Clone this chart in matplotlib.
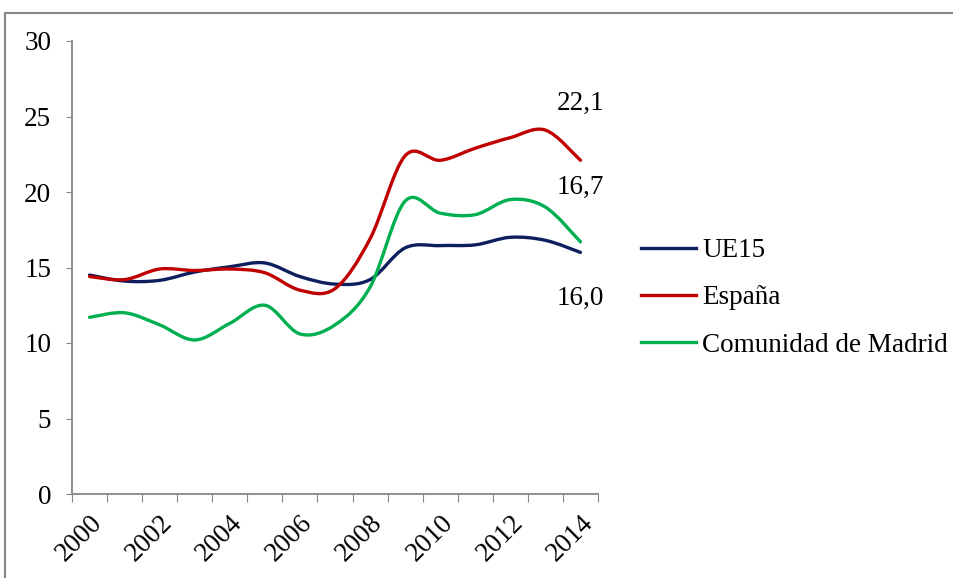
import matplotlib.pyplot as plt
import numpy as np
from matplotlib.path import Path
from matplotlib.patches import PathPatch, Rectangle
from matplotlib.lines import Line2D

plt.rcParams["font.family"] = ["Liberation Serif", "DejaVu Serif"]

# Data
years = list(range(2000, 2015))
ue15 = [14.5, 14.1, 14.15, 14.7, 15.05, 15.3, 14.4, 13.9, 14.2, 16.3, 16.45, 16.5, 17.0, 16.8, 16.0]
espana = [14.4, 14.2, 14.9, 14.8, 14.9, 14.65, 13.5, 13.6, 16.9, 22.4, 22.1, 22.9, 23.6, 24.1, 22.1]
madrid = [11.7, 12.0, 11.2, 10.2, 11.3, 12.5, 10.6, 11.2, 13.7, 19.4, 18.6, 18.5, 19.5, 19.0, 16.7]

series_names = ["UE15", "España", "Comunidad de Madrid"]
series_colors = ["#0D1F5C", "#C00000", "#00B050"]
end_labels = ["16,0", "22,1", "16,7"]
label_offsets = [-46, 57, 54]  # pixels relative to last point

FS = 19.5


def smooth_path(x, y):
    # Excel-like smoothed line: cubic Bezier segments through every point
    x = np.asarray(x, float)
    y = np.asarray(y, float)
    n = len(x)
    verts = [(x[0], y[0])]
    codes = [Path.MOVETO]
    for i in range(n - 1):
        p0 = np.array([x[max(i - 1, 0)], y[max(i - 1, 0)]])
        p1 = np.array([x[i], y[i]])
        p2 = np.array([x[i + 1], y[i + 1]])
        p3 = np.array([x[min(i + 2, n - 1)], y[min(i + 2, n - 1)]])
        c1 = p1 + (p2 - p0) / 6.0
        c2 = p2 - (p3 - p1) / 6.0
        verts += [tuple(c1), tuple(c2), tuple(p2)]
        codes += [Path.CURVE4] * 3
    return Path(verts, codes)


fig = plt.figure(figsize=(9.54, 5.78), dpi=100)
ax = fig.add_axes([72 / 954, 1 - 494 / 578, (598 - 72) / 954, (494 - 41) / 578])

# frame around the whole chart
fig.patches.append(Rectangle((5 / 954, -0.02), 1.05, 1 - 13 / 578 + 0.02,
                             transform=fig.transFigure, fill=False,
                             edgecolor="#868686", linewidth=1.5))

xpos = np.arange(len(years))
handles = []
for vals, name, col in zip([ue15, espana, madrid], series_names, series_colors):
    patch = PathPatch(smooth_path(xpos, vals), fill=False, edgecolor=col,
                      linewidth=2.4, capstyle="round", joinstyle="round")
    ax.add_patch(patch)
    handles.append(Line2D([], [], color=col, linewidth=2.4, label=name))

for vals, txt, off in zip([ue15, espana, madrid], end_labels, label_offsets):
    ax.annotate(txt, xy=(xpos[-1], vals[-1]), xytext=(0, off * 0.72),
                textcoords="offset points", ha="center", va="center",
                fontsize=FS)

ax.set_xlim(-0.5, len(years) - 0.5)
ax.set_ylim(0, 30)
ax.set_yticks(range(0, 31, 5))
ax.tick_params(axis="y", labelsize=FS, length=4, color="#868686", pad=11)

# category axis: tick marks between categories, labels every other year
ax.set_xticks(np.arange(-0.5, len(years), 1.0))
ax.set_xticklabels([])
ax.tick_params(axis="x", which="major", length=6, color="#868686")
ax.set_xticks(xpos[::2], minor=True)
ax.set_xticklabels([str(y) for y in years[::2]], minor=True, rotation=45,
                   ha="right", rotation_mode="anchor", fontsize=FS)
ax.tick_params(axis="x", which="minor", length=0, pad=12)

for s in ["top", "right"]:
    ax.spines[s].set_visible(False)
for s in ["left", "bottom"]:
    ax.spines[s].set_color("#868686")
    ax.spines[s].set_linewidth(1.3)

fig.legend(handles=handles, loc="center left", bbox_to_anchor=(617 / 954, 1 - 298 / 578),
           frameon=False, fontsize=FS, handlelength=2.0, handletextpad=0.25,
           labelspacing=0.82)

fig.savefig("out.png", dpi=100)
